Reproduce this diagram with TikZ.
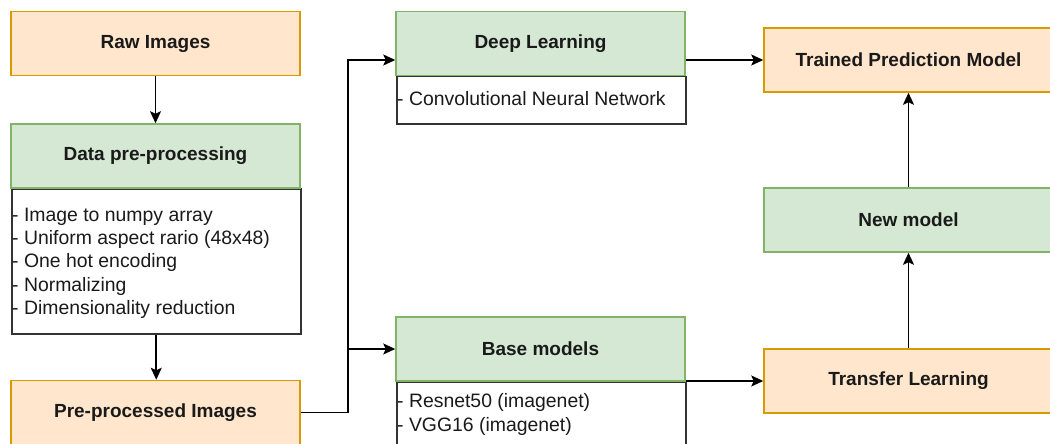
\documentclass[tikz,border=0pt]{standalone}
\usepackage{fontspec}
\setmainfont{Liberation Sans}
\usetikzlibrary{arrows.meta,calc}
\definecolor{orangefill}{HTML}{FFE6CC}
\definecolor{orangeline}{HTML}{D79B00}
\definecolor{greenfill}{HTML}{D5E8D4}
\definecolor{greenline}{HTML}{82B366}
\definecolor{txt}{HTML}{1A1A1A}
\definecolor{edge}{HTML}{333333}

\begin{document}
\begin{tikzpicture}[x=1pt,y=-1pt,
  box/.style={draw, line width=1.5pt, minimum width=289pt, minimum height=64pt,
    inner sep=0pt, text=txt, font=\fontsize{19}{23}\selectfont\bfseries},
  orangebox/.style={box, draw=orangeline, fill=orangefill},
  greenbox/.style={box, draw=greenline, fill=greenfill},
  listbox/.style={draw=edge, line width=1.5pt, fill=white, inner sep=0pt,
    minimum width=289pt, anchor=north west},
  listtext/.style={anchor=north west, inner sep=0pt, align=left, text=txt,
    font=\fontsize{19.4}{23.4}\selectfont},
  arr/.style={draw=black, line width=1.6pt, -{Stealth[length=12pt,width=11pt,inset=2.5pt]}}
]
\useasboundingbox (0,0) rectangle (1050,444);
\clip (0,0) rectangle (1050,444);

% --- left column: preprocessing pipeline
\node[orangebox] (raw) at (155.5,43.5) {Raw Images};
\node[listbox, minimum height=145pt] (dppbody) at (11,188) {};
\node[greenbox] (dpp) at (155.5,156) {Data pre-processing};
\node[listtext] (dpplist) at (12,207.5) {- Image to numpy array\\- Uniform aspect rario (48x48)\\- One hot encoding\\- Normalizing\\- Dimensionality reduction};
\node[orangebox] (pre) at (155.5,412.5) {Pre-processed Images};

% --- middle column: learning approaches
\node[listbox, minimum height=47pt] (deepbody) at (396,76) {};
\node[greenbox] (deep) at (540.5,43.5) {Deep Learning};
\node[listtext] (deeplist) at (397,91.5) {- Convolutional Neural Network};
\node[listbox, minimum height=90pt] (basebody) at (396,381) {};
\node[greenbox] (base) at (540.5,349) {Base models};
\node[listtext] (baselist) at (397,393.5) {- Resnet50 (imagenet)\\- VGG16 (imagenet)};

% --- right column: resulting models
\node[orangebox] (tpm) at (908.5,60) {Trained Prediction Model};
\node[greenbox] (new) at (908.5,220) {New model};
\node[orangebox] (tl) at (908.5,381) {Transfer Learning};

% --- connectors
\coordinate (bus) at (348,0);
\draw[arr] (raw.south) -- (dpp.north);
\draw[arr] (dppbody.south) -- (dppbody.south |- pre.north);
\draw[arr] (pre.east) -| (bus |- tpm.west) -- (deep.west |- tpm.west);
\draw[arr] (bus |- base.west) -- (base.west);
\draw[arr] (deep.east |- tpm.west) -- (tpm.west);
\draw[arr] (base.east |- tl.west) -- (tl.west);
\draw[arr] (tl.north) -- (new.south);
\draw[arr] (new.north) -- (tpm.south);
\end{tikzpicture}
\end{document}
